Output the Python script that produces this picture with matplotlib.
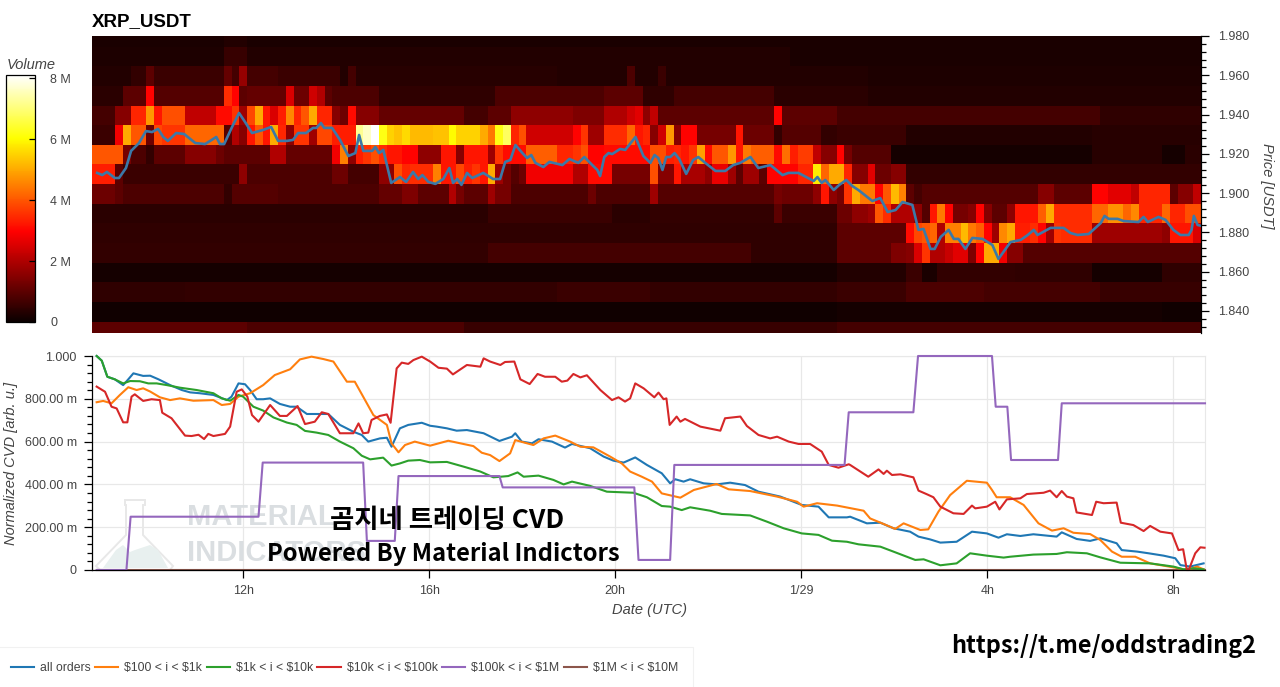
import numpy as np
import matplotlib
matplotlib.use('Agg')
import matplotlib.pyplot as plt
from matplotlib.patches import Polygon
from matplotlib.ticker import MultipleLocator

W, H = 1280, 687
plt.rcParams['font.family'] = ['Liberation Sans', 'DejaVu Sans']

# heatmap: each row is (first 10 min column, volume in M), a value holds until the next one
n_cols = 143
t_start = 8.75
price_edges = [1.8288, 1.8346, 1.8446, 1.8546, 1.8646, 1.8746, 1.8846, 1.8946, 1.9046,
               1.9146, 1.9246, 1.9346, 1.9446, 1.9546, 1.9646, 1.9746, 1.98]

row_1828 = [(0, 1.0), (20, .8), (48, .55), (96, .7)]
row_1834 = [(0, .08), (96, .15), (138, .08)]
row_1844 = [(0, .45), (12, .5), (60, .6), (72, .5), (96, .6), (105, .8), (115, .7), (130, .55)]
row_1854 = [(0, .15), (96, .3), (105, .6), (107, .2), (109, .5), (119, .45), (129, .15), (138, .45)]
row_1864 = [(0, .5), (51, .7), (85, .45), (96, 1.0), (103, 1.4), (105, 1.5), (106, 2.5), (107, 3.6),
            (108, 2.0), (110, 2.3), (111, 2.6), (113, 1.4), (114, 3.0), (115, 5.0), (117, 2.8),
            (118, 1.5), (120, .9)]
row_1874 = [(0, .45), (96, 1.0), (105, 3.1), (106, 3.8), (107, 4.0), (108, 4.2), (109, 2.0), (110, 4.5),
            (112, 5.2), (113, 4.4), (114, 4.1), (115, 3.0), (116, 1.8), (117, 4.6), (118, 5.0),
            (119, 3.3), (121, 3.5), (122, 3.0), (123, 1.8), (124, 3.6), (125, 3.5), (129, 1.8),
            (138, 1.6), (139, 3.2), (142, 2.5)]
row_1884 = [(0, .4), (51, .6), (67, .4), (72, .5), (88, 1.0), (89, .6), (96, 1.2), (98, 1.6), (100, 1.8),
            (101, 4.0), (102, 3.5), (103, 2.0), (106, 1.6), (107, .9), (108, 3.2), (109, 4.4), (110, 3.0),
            (111, 1.3), (113, 1.5), (114, 3.0), (115, 1.5), (116, 1.0), (118, 1.6), (119, 3.2), (122, 4.1),
            (123, 5.0), (124, 3.5), (129, 4.2), (131, 4.7), (133, 4.2), (134, 4.6), (135, 3.4), (138, 4.2),
            (139, 3.4), (141, 3.9)]
row_1894 = [(0, 1.2), (3, 1.0), (4, .8), (17, .5), (18, .9), (24, .8), (37, 1.1), (40, 1.4), (42, 1.0),
            (46, 2.0), (47, 1.3), (48, 1.0), (51, 1.8), (52, 1.3), (54, .8), (64, 1.2), (65, .8), (72, 1.8),
            (73, .9), (88, 1.3), (89, 1.2), (93, 1.6), (94, 3.2), (95, 1.6), (96, 1.3), (97, 3.6), (98, 5.0),
            (99, 4.4), (101, 3.0), (102, 4.0), (103, 5.2), (104, 4.5), (105, 1.0), (106, .7), (107, .9),
            (122, 1.5), (124, 1.0), (129, 3.0), (131, 2.6), (134, 2.2), (135, 3.4), (139, 1.0), (140, 1.5),
            (142, 2.2)]
row_1904 = [(0, 3.3), (3, 1.0), (4, .6), (19, 1.6), (20, .8), (31, 1.2), (33, .7), (37, 1.6), (39, 3.9),
            (40, 3.4), (41, 3.5), (44, 4.5), (45, 3.2), (47, 3.8), (48, 3.3), (49, 3.6), (50, 3.2), (51, 5.0),
            (52, 1.8), (53, 1.3), (54, .9), (55, 1.2), (56, 2.8), (62, 2.0), (64, 3.1), (67, 1.3), (72, 3.9),
            (73, 1.5), (75, 3.2), (76, 1.9), (79, 1.6), (80, 2.7), (82, 1.8), (83, 1.0), (84, 1.8), (86, 1.0),
            (87, 3.0), (91, 3.4), (93, 5.8), (94, 4.2), (95, 5.0), (97, 3.4), (98, 1.5), (100, 2.6), (101, 1.2),
            (103, 1.5), (105, .5)]
row_1914 = [(0, 4.0), (4, 1.3), (5, .8), (7, .5), (8, 1.0), (12, 1.5), (16, 1.2), (17, 1.0), (23, 2.0),
            (25, 1.1), (31, 2.8), (32, 4.5), (33, 1.6), (34, 3.3), (35, 3.6), (36, 3.9), (37, 3.5), (38, 3.2),
            (40, 3.0), (42, 1.6), (45, 3.2), (47, 1.5), (48, 3.2), (51, 1.8), (52, 3.6), (53, 3.1), (56, 4.1),
            (60, 3.4), (62, 3.6), (63, 3.9), (64, 3.0), (66, 3.1), (72, 3.9), (74, 3.3), (75, 3.4), (76, 3.2),
            (77, 3.6), (78, 4.9), (79, 3.1), (80, 4.0), (82, 4.8), (83, 3.2), (84, 4.4), (85, 4.1), (88, 3.1),
            (89, 4.3), (90, 3.3), (91, 3.7), (93, 2.2), (94, 1.5), (96, 3.0), (97, 1.3), (98, .9), (103, .15),
            (129, .35), (138, .15), (141, .4)]
row_1924 = [(0, .6), (3, 2.8), (4, 5.0), (5, 4.0), (7, 1.2), (8, 3.8), (9, 3.6), (12, 4.2), (17, .9), (18, 2.0),
            (19, 1.5), (20, 3.2), (21, 4.0), (22, 3.2), (23, 5.0), (24, 3.4), (25, 1.6), (26, 3.6), (28, 1.8),
            (29, 3.8), (31, 3.3), (34, 7.2), (35, 7.6), (36, 8.1), (37, 6.2), (38, 5.5), (39, 5.3), (40, 5.6),
            (41, 5.2), (44, 5.3), (46, 6.0), (47, 5.5), (50, 5.0), (51, 4.4), (52, 6.2), (53, 6.8), (54, 3.4),
            (55, 3.9), (56, 2.4), (62, 3.0), (63, 3.6), (64, 1.8), (66, 3.5), (69, 4.2), (70, 3.2), (71, 3.4),
            (72, 1.5), (73, 2.4), (74, 4.8), (75, 1.5), (76, 3.0), (78, 1.3), (83, 3.2), (84, 1.2), (88, .5),
            (89, .9), (94, .5), (96, .6), (105, .3), (129, .35)]
row_1934 = [(0, .7), (3, 1.5), (5, 3.4), (7, 4.8), (8, 3.2), (9, 3.9), (12, 2.2), (16, 3.1), (18, 3.6), (19, 1.8),
            (20, 3.8), (21, 5.0), (22, 3.2), (23, 2.5), (24, 3.3), (25, 4.6), (26, 3.4), (27, 4.0), (28, 5.0),
            (29, 3.4), (31, 1.5), (32, 1.2), (33, 3.1), (34, 1.5), (37, 1.1), (48, .7), (51, 1.0), (54, 1.6),
            (62, 1.4), (66, 2.0), (69, 2.4), (70, 2.6), (71, 1.6), (72, 2.2), (73, 1.0), (88, 3.0), (89, 1.0),
            (96, .7), (130, .45)]
row_1944 = [(0, .4), (4, 1.0), (7, 3.0), (8, .9), (17, 3.5), (18, 3.0), (19, 1.0), (20, 1.1), (25, 2.5), (26, 1.2),
            (28, 2.4), (29, 2.0), (30, 1.0), (31, .8), (37, .45), (52, .8), (66, 1.0), (71, .45), (75, .7),
            (88, .4), (100, .3)]
row_1954 = [(0, .3), (5, .5), (7, 1.0), (8, .6), (17, 1.1), (18, .7), (19, 1.7), (20, .7), (24, .6), (32, .3),
            (33, .7), (34, .35), (60, .3), (69, .8), (70, .3), (73, .6), (74, .3), (100, .25)]
row_1964 = [(0, .25), (17, .55), (20, .3), (90, .2)]
row_1974 = [(0, .22), (17, .3), (20, .22)]

heat_rows = [row_1828, row_1834, row_1844, row_1854, row_1864, row_1874, row_1884, row_1894,
             row_1904, row_1914, row_1924, row_1934, row_1944, row_1954, row_1964, row_1974]

price_t = [8.86, 8.97, 9.07, 9.24, 9.33, 9.48, 9.59, 9.76, 9.91, 10.04, 10.17, 10.28, 10.38, 10.56, 10.73, 10.97, 11.18,
           11.29, 11.42, 11.50, 11.59, 11.76, 11.91, 12.04, 12.19, 12.43, 12.60, 12.75, 12.94, 13.07, 13.18, 13.35, 13.50,
           13.57, 13.67, 13.74, 13.91, 14.08, 14.26, 14.41, 14.49, 14.58, 14.77, 14.84, 14.92, 15.01, 15.18, 15.37, 15.50,
           15.65, 15.76, 15.85, 15.98, 16.13, 16.30, 16.43, 16.51, 16.60, 16.69, 16.81, 16.92, 17.16, 17.37, 17.52, 17.63,
           17.74, 17.85, 18.00, 18.10, 18.19, 18.28, 18.45, 18.58, 18.86, 19.01, 19.20, 19.33, 19.50, 19.61, 19.67, 19.76,
           19.85, 19.93, 20.10, 20.21, 20.43, 20.60, 20.75, 20.84, 20.92, 21.01, 21.09, 21.18, 21.27, 21.37, 21.52, 21.67,
           21.78, 21.93, 22.15, 22.36, 22.53, 22.68, 22.90, 23.07, 23.33, 23.59, 23.72, 23.93, 24.26, 24.34, 24.43, 24.51,
           24.69, 24.81, 24.96, 25.09, 25.22, 25.52, 25.69, 25.85, 26.02, 26.17, 26.38, 26.51, 26.62, 26.77, 26.86, 26.99,
           27.16, 27.27, 27.37, 27.52, 27.67, 27.89, 28.10, 28.23, 28.49, 28.71, 28.86, 28.99, 29.07, 29.35, 29.63, 29.78,
           29.93, 30.17, 30.43, 30.51, 30.60, 30.79, 30.92, 31.24, 31.35, 31.44, 31.67, 31.82, 31.99, 32.14, 32.32, 32.38,
           32.43, 32.51, 32.60]
price = [1.9103, 1.9092, 1.9108, 1.9077, 1.9077, 1.9128, 1.9215, 1.9255, 1.9316, 1.9311, 1.9327, 1.9286, 1.9266, 1.9306,
         1.9301, 1.9255, 1.9250, 1.9266, 1.9286, 1.9250, 1.9250, 1.9337, 1.9408, 1.9362, 1.9306, 1.9322, 1.9337, 1.9266,
         1.9266, 1.9271, 1.9306, 1.9306, 1.9332, 1.9332, 1.9357, 1.9332, 1.9332, 1.9271, 1.9189, 1.9204, 1.9296, 1.9215,
         1.9215, 1.9235, 1.9204, 1.9220, 1.9052, 1.9082, 1.9057, 1.9108, 1.9072, 1.9092, 1.9057, 1.9047, 1.9072, 1.9128,
         1.9052, 1.9072, 1.9042, 1.9103, 1.9077, 1.9103, 1.9072, 1.9072, 1.9159, 1.9169, 1.9245, 1.9204, 1.9179, 1.9194,
         1.9154, 1.9133, 1.9159, 1.9143, 1.9174, 1.9154, 1.9184, 1.9143, 1.9118, 1.9087, 1.9184, 1.9204, 1.9199, 1.9225,
         1.9220, 1.9286, 1.9189, 1.9154, 1.9194, 1.9179, 1.9118, 1.9184, 1.9184, 1.9204, 1.9174, 1.9098, 1.9169, 1.9184,
         1.9154, 1.9113, 1.9113, 1.9143, 1.9154, 1.9184, 1.9128, 1.9143, 1.9092, 1.9103, 1.9103, 1.9062, 1.9082, 1.9052,
         1.9067, 1.9016, 1.9042, 1.9067, 1.9036, 1.9016, 1.8960, 1.8975, 1.8904, 1.8914, 1.8955, 1.8940, 1.8813, 1.8818,
         1.8716, 1.8716, 1.8777, 1.8813, 1.8767, 1.8767, 1.8716, 1.8772, 1.8767, 1.8736, 1.8665, 1.8751, 1.8762, 1.8787,
         1.8813, 1.8787, 1.8823, 1.8823, 1.8797, 1.8787, 1.8792, 1.8848, 1.8884, 1.8869, 1.8869, 1.8858, 1.8853, 1.8879,
         1.8853, 1.8879, 1.8864, 1.8813, 1.8787, 1.8787, 1.8813, 1.8884, 1.8838, 1.8833]

# normalized CVD per order size bucket
all_t = [8.85, 8.96, 9.08, 9.24, 9.42, 9.53, 9.64, 9.85, 10.0, 10.18, 10.43, 10.68, 10.86, 11.07, 11.36, 11.65, 11.75, 11.90,
         12.04, 12.15, 12.29, 12.43, 12.58, 12.79, 13.01, 13.15, 13.37, 13.58, 13.83, 14.08, 14.37, 14.55, 14.69, 14.94, 15.09,
         15.19, 15.37, 15.55, 15.84, 16.02, 16.16, 16.38, 16.59, 16.81, 17.17, 17.51, 17.78, 17.85, 17.99, 18.21, 18.35, 18.64,
         18.92, 19.07, 19.46, 19.75, 19.96, 20.18, 20.43, 20.68, 21.0, 21.18, 21.29, 21.47, 21.61, 21.90, 22.18, 22.47, 22.79,
         23.08, 23.55, 24.01, 24.37, 24.59, 24.98, 25.05, 25.41, 25.70, 25.98, 26.34, 26.52, 26.77, 26.99, 27.34, 27.67, 27.99,
         28.24, 28.42, 28.71, 28.99, 29.49, 29.60, 29.92, 30.21, 30.43, 30.78, 30.89, 31.22, 31.47, 31.79, 32.04, 32.15, 32.36,
         32.65]
all_orders = [1.0, .978, .903, .891, .864, .891, .919, .907, .908, .891, .864, .841, .830, .826, .818, .794, .810, .872,
              .868, .841, .798, .798, .802, .776, .763, .763, .729, .729, .729, .678, .646, .631, .600, .615, .618,
              .576, .662, .678, .688, .674, .670, .662, .651, .654, .639, .603, .623, .639, .600, .592, .611, .600,
              .572, .589, .569, .530, .511, .502, .526, .491, .452, .405, .424, .413, .424, .405, .400, .408, .397,
              .366, .343, .304, .296, .246, .246, .249, .218, .221, .195, .179, .156, .143, .128, .132, .179, .171,
              .151, .167, .159, .167, .156, .176, .145, .136, .148, .125, .093, .086, .078, .067, .055, .023, .016,
              .031]

small_t = [8.85, 8.99, 9.17, 9.35, 9.53, 9.71, 9.85, 10.0, 10.21, 10.43, 10.64, 10.93, 11.36, 11.54, 11.72, 11.90, 12.15,
           12.43, 12.68, 13.01, 13.22, 13.47, 13.72, 13.94, 14.23, 14.40, 14.58, 14.80, 15.09, 15.19, 15.34, 15.48, 15.69,
           16.02, 16.41, 16.95, 17.13, 17.31, 17.51, 17.74, 17.85, 18.24, 18.46, 18.71, 19.03, 19.25, 19.53, 19.89, 20.14,
           20.32, 20.57, 20.79, 21.0, 21.40, 21.69, 22.18, 22.44, 22.90, 23.48, 23.91, 24.05, 24.34, 24.77, 25.34, 25.48,
           25.77, 26.02, 26.20, 26.56, 26.73, 26.95, 27.20, 27.56, 27.99, 28.10, 28.20, 28.49, 28.78, 29.10, 29.39, 29.64,
           29.85, 30.21, 30.43, 30.68, 30.89, 31.18, 31.50, 32.04, 32.29, 32.51, 32.65]
small_orders = [.784, .790, .779, .818, .854, .841, .849, .834, .807, .794, .802, .791, .794, .771, .776, .810, .826,
                .864, .911, .938, .984, .997, .986, .974, .880, .880, .810, .724, .678, .592, .550, .584, .600,
                .581, .604, .579, .548, .537, .509, .545, .607, .584, .615, .628, .600, .576, .573, .530, .498,
                .460, .436, .413, .358, .338, .374, .402, .377, .369, .343, .319, .296, .312, .301, .277, .241,
                .215, .192, .218, .187, .190, .273, .350, .417, .408, .374, .340, .340, .304, .218, .184, .195,
                .174, .168, .140, .086, .062, .062, .031, .011, 0, .016, .003]

mid_t = [8.85, 8.96, 9.08, 9.24, 9.42, 9.57, 9.78, 9.96, 10.14, 10.36, 10.64, 11.0, 11.36, 11.54, 11.72, 11.90, 12.0, 12.22,
         12.43, 12.65, 12.94, 13.15, 13.33, 13.58, 13.83, 14.08, 14.37, 14.55, 14.73, 15.01, 15.19, 15.37, 15.55, 15.80, 16.02,
         16.38, 16.74, 17.10, 17.38, 17.70, 17.90, 18.03, 18.35, 18.67, 18.89, 19.07, 19.46, 19.82, 20.39, 20.68, 21.0, 21.18,
         21.43, 21.61, 22.04, 22.29, 22.90, 23.26, 23.62, 24.01, 24.37, 24.66, 24.98, 25.23, 25.70, 25.98, 26.45, 26.63, 26.99,
         27.34, 27.63, 27.99, 28.35, 28.49, 28.99, 29.49, 29.71, 30.14, 30.43, 30.86, 31.50, 32.0, 32.22, 32.43, 32.65]
mid_orders = [1.0, .978, .903, .891, .872, .883, .882, .872, .872, .864, .852, .841, .826, .802, .791, .818, .810, .763,
              .745, .713, .689, .678, .650, .642, .631, .600, .569, .534, .517, .525, .488, .498, .511, .514, .503,
              .505, .483, .460, .433, .439, .456, .436, .441, .421, .400, .413, .393, .366, .361, .340, .299, .296,
              .280, .293, .277, .262, .255, .226, .195, .171, .164, .137, .132, .120, .109, .086, .047, .050, .022,
              .031, .078, .067, .058, .062, .072, .075, .083, .078, .059, .034, .031, .016, .003, .008, .003]

large_t = [8.85, 9.03, 9.17, 9.28, 9.42, 9.51, 9.60, 9.67, 9.85, 10.03, 10.21, 10.26, 10.46, 10.75, 10.89, 11.04, 11.16, 11.25,
           11.36, 11.61, 11.72, 11.86, 11.97, 12.09, 12.19, 12.33, 12.43, 12.58, 12.79, 12.94, 13.17, 13.33, 13.54, 13.69, 13.83,
           14.08, 14.37, 14.48, 14.58, 14.69, 14.76, 14.94, 15.09, 15.17, 15.30, 15.41, 15.55, 15.66, 15.84, 16.02, 16.20, 16.38,
           16.51, 16.81, 17.10, 17.17, 17.31, 17.53, 17.63, 17.83, 17.96, 18.16, 18.33, 18.49, 18.71, 18.85, 18.97, 19.10, 19.25,
           19.39, 19.68, 19.93, 20.07, 20.21, 20.32, 20.43, 20.61, 20.84, 20.93, 21.04, 21.10, 21.17, 21.32, 21.40, 21.50, 21.83,
           22.26, 22.36, 22.69, 22.83, 23.08, 23.33, 23.48, 23.73, 23.94, 24.19, 24.44, 24.59, 24.80, 25.02, 25.05, 25.44, 25.66,
           25.77, 25.84, 25.95, 26.13, 26.41, 26.52, 26.70, 26.84, 26.99, 27.27, 27.49, 27.67, 27.74, 27.99, 28.17, 28.26, 28.42,
           28.71, 28.85, 29.21, 29.35, 29.49, 29.60, 29.71, 29.85, 29.92, 30.25, 30.34, 30.50, 30.78, 30.87, 31.14, 31.36, 31.50,
           31.72, 31.97, 32.11, 32.21, 32.29, 32.33, 32.47, 32.58, 32.67]
large_orders = [.857, .833, .763, .755, .690, .690, .810, .821, .790, .798, .794, .735, .709, .628, .626, .632, .612, .636,
                .626, .636, .670, .833, .844, .810, .724, .693, .724, .771, .720, .720, .766, .682, .693, .737, .729,
                .639, .639, .685, .639, .642, .701, .720, .727, .688, .942, .969, .963, .981, .997, .974, .945, .941,
                .914, .958, .950, .989, .974, .958, .972, .974, .891, .869, .916, .903, .903, .880, .885, .916, .900,
                .910, .841, .794, .807, .787, .802, .872, .849, .807, .829, .798, .802, .678, .717, .693, .706, .670,
                .651, .709, .717, .673, .631, .615, .623, .600, .589, .589, .553, .491, .478, .494, .491, .436, .470,
                .449, .464, .444, .447, .433, .371, .354, .340, .296, .265, .262, .301, .288, .296, .319, .283, .330,
                .335, .355, .361, .371, .340, .369, .343, .335, .269, .257, .319, .312, .315, .221, .210, .182, .206,
                .179, .171, .093, .097, 0, 0, .078, .106, .104]

whale_t = [8.85, 9.49, 9.58, 12.33, 12.42, 14.58, 14.66, 15.26, 15.34, 17.51, 17.58, 20.41, 20.50, 21.18, 21.27, 24.93, 25.02,
           26.41, 26.51, 28.10, 28.18, 28.43, 28.51, 29.52, 29.60, 32.68]
whale_orders = [0, 0, .249, .249, .502, .502, .136, .136, .439, .439, .386, .386, .047, .047, .491, .491, .737,
                .737, 1.0, 1.0, .763, .763, .514, .514, .779, .779]

huge_t = [8.85, 32.68]
huge_orders = [0, 0]

series_names = ['all orders', r'\$100 < i < \$1k', r'\$1k < i < \$10k', r'\$10k < i < \$100k', r'\$100k < i < \$1M', r'\$1M < i < \$10M']
series_colors = ['#1f77b4', '#ff7f0e', '#2ca02c', '#d62728', '#9467bd', '#8c564b']

time_ticks = [12, 16, 20, 24, 28, 32]
time_labels = ['12h', '16h', '20h', '1/29', '4h', '8h']
cvd_ticks = [0, .2, .4, .6, .8, 1.0]
cvd_labels = ['0', '200.00 m', '400.00 m', '600.00 m', '800.00 m', '1.000']
vol_ticks = [0, 2, 4, 6, 8]
vol_labels = ['0', '2 M', '4 M', '6 M', '8 M']

grey = '#444444'


def box(x0, y0, x1, y1):
    # pixel box from the top left corner to figure fractions
    return [x0 / W, 1 - y1 / H, (x1 - x0) / W, (y1 - y0) / H]


def fx(x):
    return x / W


def fy(y):
    return 1 - y / H


def cols_to_row(row):
    starts = [r[0] for r in row] + [n_cols]
    return np.repeat([r[1] for r in row], np.diff(starts))


fig = plt.figure(figsize=(W / 100, H / 100), dpi=100)

# price heatmap
ax1 = fig.add_axes(box(92, 36, 1201, 333))
volume = np.array([cols_to_row(r) for r in heat_rows])
t_edges = t_start + np.arange(n_cols + 1) / 6
mesh = ax1.pcolormesh(t_edges, price_edges, volume, cmap='hot', vmin=0, vmax=8.1, rasterized=True)
ax1.plot(price_t, price, color='#3b79a8', lw=1.9)
ax1.set_xlim(t_start, t_edges[-1])
ax1.set_ylim(price_edges[0], price_edges[-1])
ax1.set_xticks([])
ax1.yaxis.tick_right()
ax1.yaxis.set_major_locator(MultipleLocator(.02))
ax1.yaxis.set_minor_locator(MultipleLocator(.004))
ax1.yaxis.set_major_formatter('{x:.3f}')
ax1.tick_params(axis='y', which='major', length=6, width=.9, labelsize=9, labelcolor=grey, pad=6)
ax1.tick_params(axis='y', which='minor', length=3.5, width=.9)
for s in ['left', 'top', 'bottom']:
    ax1.spines[s].set_visible(False)
ax1.spines['right'].set_linewidth(.9)

fig.text(fx(92), fy(26), 'XRP_USDT', fontsize=13.5, fontweight='bold', color='black', va='baseline')
fig.text(fx(1267), fy(186), 'Price [USDT]', fontsize=10.5, style='italic', color=grey,
         rotation=-90, ha='center', va='center')

# colour bar
cax = fig.add_axes(box(6, 75, 35, 322))
cbar = fig.colorbar(mesh, cax=cax)
cbar.set_ticks(vol_ticks, labels=vol_labels)
cbar.ax.minorticks_off()
cbar.ax.tick_params(direction='in', length=4, width=.9, labelsize=9, labelcolor=grey, pad=11)
cbar.outline.set_linewidth(.9)
fig.text(fx(7), fy(65), 'Volume', fontsize=10.5, style='italic', color=grey, va='center')

# CVD lines
ax2 = fig.add_axes(box(92, 356, 1205, 570))
series = [(all_t, all_orders), (small_t, small_orders), (mid_t, mid_orders),
          (large_t, large_orders), (whale_t, whale_orders), (huge_t, huge_orders)]
order = [5, 0, 1, 2, 3, 4]
handles = [None] * 6
for i in order:
    t, v = series[i]
    handles[i], = ax2.plot(t, v, color=series_colors[i], lw=1.5, label=series_names[i], clip_on=False,
                           solid_joinstyle='round', zorder=3 + order.index(i) * .1)
ax2.set_xlim(t_start, 32.68)
ax2.set_ylim(0, 1)
ax2.set_xticks(time_ticks, labels=time_labels)
ax2.set_yticks(cvd_ticks, labels=cvd_labels)
ax2.yaxis.set_minor_locator(MultipleLocator(.04))
ax2.grid(True, color='#e8e8e8', lw=.9)
ax2.set_axisbelow(True)
ax2.tick_params(axis='both', which='major', length=6, width=.9, labelsize=9, labelcolor=grey, pad=5)
ax2.tick_params(axis='y', which='minor', length=3.5, width=.9)
for s in ['top', 'right']:
    ax2.spines[s].set_color('#e8e8e8')
for s in ['left', 'bottom']:
    ax2.spines[s].set_linewidth(.9)
    ax2.spines[s].set_zorder(5)

fig.text(fx(649), fy(610), 'Date (UTC)', fontsize=10.5, style='italic', color=grey, ha='center', va='center')
fig.text(fx(11), fy(463), 'Normalized CVD [arb. u.]', fontsize=10.5, style='italic', color=grey,
         rotation=90, ha='center', va='center')

# watermark behind the lines
flask = [(125, 500), (145, 500), (145, 505), (143, 505), (143, 535), (173, 566), (170, 570), (100, 570), (96, 566),
         (126, 535), (126, 505), (125, 505)]
liquid = [(103, 568), (116, 550), (123, 545), (130, 552), (135, 550), (150, 545), (158, 550), (168, 568)]
ax2.add_patch(Polygon([(fx(x), fy(y)) for x, y in flask], closed=True, transform=fig.transFigure, fc='none',
                      ec='#e8e8e8', lw=1.4, zorder=1, clip_on=False))
ax2.add_patch(Polygon([(fx(x), fy(y)) for x, y in liquid], closed=True, transform=fig.transFigure, fc='#e8f0ef',
                      ec='none', zorder=1, clip_on=False))
ax2.text(fx(187), fy(517), 'MATERIAL', transform=fig.transFigure, fontweight='bold', fontsize=21,
         color='#dadee1', va='center', zorder=1)
ax2.text(fx(187), fy(553), 'INDICATORS', transform=fig.transFigure, fontweight='bold', fontsize=21,
         color='#dadee1', va='center', zorder=1)

# overlay text from the screenshot
kr = ['Noto Sans CJK KR', 'DejaVu Sans']
ax2.text(fx(447), fy(520), '곰지네 트레이딩 CVD', transform=fig.transFigure, family=kr, fontweight='bold', fontsize=19,
         color='black', ha='center', va='center', zorder=6)
ax2.text(fx(443), fy(554), 'Powered By Material Indictors', transform=fig.transFigure, family=kr, fontweight='bold',
         fontsize=17.1, color='black', ha='center', va='center', zorder=6)
fig.text(fx(1104), fy(646), 'https://t.me/oddstrading2', family=kr, fontweight='bold', fontsize=16.8,
         color='black', ha='center', va='center')

leg = fig.legend(handles=handles, loc='center left', bbox_to_anchor=(-4 / W, fy(668)), ncol=6, fontsize=8.8,
                 frameon=True, fancybox=False, edgecolor='#eeeeee', borderpad=1.2, borderaxespad=0, handlelength=1.9,
                 handletextpad=.5, columnspacing=.35, labelcolor=grey)
leg.get_frame().set_linewidth(.8)

fig.savefig('out.png', dpi=100)
